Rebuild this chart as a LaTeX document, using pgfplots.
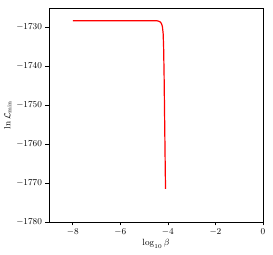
\documentclass[border=0pt]{standalone}
\usepackage{pgfplots}
\pgfplotsset{compat=1.18}
\begin{document}
\begin{tikzpicture}
\begin{axis}[
  scale only axis,
  width=214pt, height=214pt,
  xmin=-9, xmax=0, ymin=-1780, ymax=-1725,
  xtick={-8,-6,-4,-2,0},
  ytick={-1780,-1770,-1760,-1750,-1740,-1730},
  tick align=outside,
  major tick length=3.5pt,
  tick style={black, line width=0.6pt},
  xtick pos=bottom, ytick pos=left,
  axis line style={line width=0.6pt},
  tick label style={font=\fontsize{9}{10}\selectfont},
  label style={font=\fontsize{9}{10}\selectfont},
  xlabel={$\log_{10}\beta$},
  ylabel={$\ln\mathcal{L}_{\mathrm{min}}$},
  xlabel style={yshift=3pt},
  ylabel style={yshift=-2pt},
  scaled y ticks=false,
  yticklabel style={/pgf/number format/.cd, 1000 sep={}},
]
\addplot[red, line width=1.2pt] coordinates {
(-8,-1728.3) (-7,-1728.3) (-6,-1728.3) (-5,-1728.3) (-4.45,-1728.3)
(-4.38,-1728.4) (-4.32,-1728.6) (-4.27,-1729.0) (-4.23,-1729.8)
(-4.2,-1731.5) (-4.18,-1735) (-4.16,-1742) (-4.14,-1752) (-4.12,-1762) (-4.1,-1771.5)
};
\end{axis}
\path (current axis.south west) ++(-49pt,-33pt) coordinate (bl);
\path (current axis.north east) ++(10pt,8pt) coordinate (tr);
\useasboundingbox (bl) rectangle (tr);
\end{tikzpicture}
\end{document}
